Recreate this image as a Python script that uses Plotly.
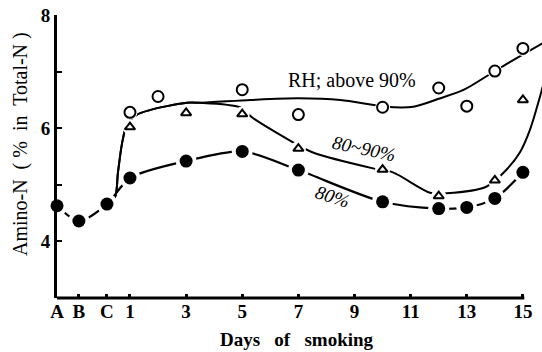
import plotly.graph_objects as go

# ---- data ----
tick_pos = [-1.6, -0.82, 0.18, 1, 3, 5, 7, 9, 11, 13, 15]
tick_text = ["A", "B", "C", "1", "3", "5", "7", "9", "11", "13", "15"]

# 80% (filled circles)
f_x = [-1.6, -0.82, 0.18, 1, 3, 5, 7, 10, 12, 13, 14, 15]
f_y = [4.63, 4.36, 4.66, 5.12, 5.42, 5.59, 5.26, 4.70, 4.58, 4.60, 4.76, 5.22]

# 80~90% (triangles)
t_x = [1, 3, 5, 7, 10, 12, 14, 15]
t_y = [6.02, 6.27, 6.25, 5.64, 5.27, 4.80, 5.08, 6.50]

# above 90% (open circles)
c_x = [1, 2, 5, 7, 10, 12, 13, 14, 15]
c_y = [6.28, 6.56, 6.68, 6.24, 6.37, 6.71, 6.39, 7.01, 7.41]

# fitted curves
up_x = [0.18, 0.47, 0.57, 0.72, 0.89, 1.25, 1.71, 2.32, 3.03, 3.5, 5.3, 7.0,
        8.5, 10.1, 11.1, 12.0, 12.9, 14.0, 15.1, 15.7]
up_y = [4.66, 4.79, 5.21, 5.74, 6.06, 6.24, 6.32, 6.39, 6.45, 6.45, 6.50, 6.53,
        6.50, 6.38, 6.38, 6.52, 6.68, 7.01, 7.33, 7.50]

mid_x = [0.18, 0.47, 0.57, 0.72, 0.89, 1.25, 1.71, 2.32, 3.03, 3.5, 4.92, 5.38,
         7.06, 7.52, 9.66, 10.37, 11.69, 12.28, 13.71, 14.42, 14.89, 15.25,
         15.61, 15.7]
mid_y = [4.66, 4.79, 5.21, 5.74, 6.06, 6.24, 6.32, 6.39, 6.45, 6.45, 6.37, 6.18,
         5.68, 5.57, 5.29, 5.22, 4.86, 4.85, 4.97, 5.27, 5.57, 5.97, 6.56, 6.73]

SERIF = "Liberation Serif, Times New Roman, serif"

fig = go.Figure()

# curves
fig.add_trace(go.Scatter(x=up_x, y=up_y, mode="lines",
                         line=dict(color="black", width=2, shape="spline", smoothing=0.8)))
fig.add_trace(go.Scatter(x=mid_x, y=mid_y, mode="lines",
                         line=dict(color="black", width=2, shape="spline", smoothing=0.8)))
fig.add_trace(go.Scatter(x=f_x, y=f_y, mode="lines",
                         line=dict(color="black", width=2.2, shape="spline", smoothing=0.8)))

# white halos
fig.add_trace(go.Scatter(x=f_x, y=f_y, mode="markers", cliponaxis=False,
                         marker=dict(color="white", size=21, line=dict(width=0))))
fig.add_trace(go.Scatter(x=t_x, y=t_y, mode="markers", cliponaxis=False,
                         marker=dict(color="white", size=15, line=dict(width=0))))
fig.add_trace(go.Scatter(x=c_x, y=c_y, mode="markers", cliponaxis=False,
                         marker=dict(color="white", size=15, line=dict(width=0))))

# markers
fig.add_trace(go.Scatter(x=f_x, y=f_y, mode="markers", cliponaxis=False,
                         marker=dict(color="black", size=13, line=dict(width=0))))
fig.add_trace(go.Scatter(x=t_x, y=t_y, mode="markers", cliponaxis=False,
                         marker=dict(symbol="triangle-up", color="white", size=9,
                                     line=dict(color="black", width=2))))
fig.add_trace(go.Scatter(x=c_x, y=c_y, mode="markers", cliponaxis=False,
                         marker=dict(symbol="circle", color="white", size=11,
                                     line=dict(color="black", width=2))))

fig.update_layout(
    width=542, height=352,
    margin=dict(l=57, r=0, t=15, b=54),
    paper_bgcolor="white", plot_bgcolor="white",
    showlegend=False,
    font=dict(family=SERIF, color="black"),
    xaxis=dict(range=[-1.6, 15.68], showgrid=False, zeroline=False, showline=False,
               automargin=False,
               tickmode="array", tickvals=tick_pos, ticktext=tick_text,
               ticks="inside", ticklen=4, tickwidth=3, tickcolor="black",
               tickfont=dict(family=SERIF, size=19, weight="bold")),
    yaxis=dict(range=[3, 8], showgrid=False, zeroline=False, showline=True,
               automargin=False,
               linecolor="black", linewidth=3,
               tickmode="array", tickvals=[4, 5, 6, 7, 8], ticktext=["4", "", "6", "", "8"],
               ticks="inside", ticklen=5, tickwidth=2, tickcolor="black",
               tickfont=dict(family=SERIF, size=19, weight="bold")),
    shapes=[dict(type="line", xref="x", yref="paper", x0=-1.6, x1=15.05, y0=0, y1=0,
                 line=dict(color="black", width=3))],
    annotations=[
        dict(text="Amino-N  ( %  in  Total-N )", xref="paper", yref="paper",
             x=-0.0763, y=0.544, textangle=-90, showarrow=False,
             xanchor="center", yanchor="middle", font=dict(family=SERIF, size=20)),
        dict(text="Days   of   smoking", xref="paper", yref="paper",
             x=0.495, y=-0.148, showarrow=False, xanchor="center", yanchor="middle",
             font=dict(family=SERIF, size=19, weight="bold")),
        dict(text="RH; above 90%", xref="x", yref="y", x=8.91, y=6.85, showarrow=False,
             xanchor="center", yanchor="middle", font=dict(family=SERIF, size=20)),
        dict(text="80~90%", xref="x", yref="y", x=9.34, y=5.65, showarrow=False,
             textangle=12, xanchor="center", yanchor="middle",
             font=dict(family=SERIF, size=19, style="italic")),
        dict(text="80%", xref="x", yref="y", x=8.2, y=4.79, showarrow=False,
             textangle=18, xanchor="center", yanchor="middle",
             font=dict(family=SERIF, size=19, style="italic")),
    ],
)

fig.write_html("out.html", config={"displayModeBar": False},
               post_script="document.body.style.margin='0';document.body.style.padding='0';")
